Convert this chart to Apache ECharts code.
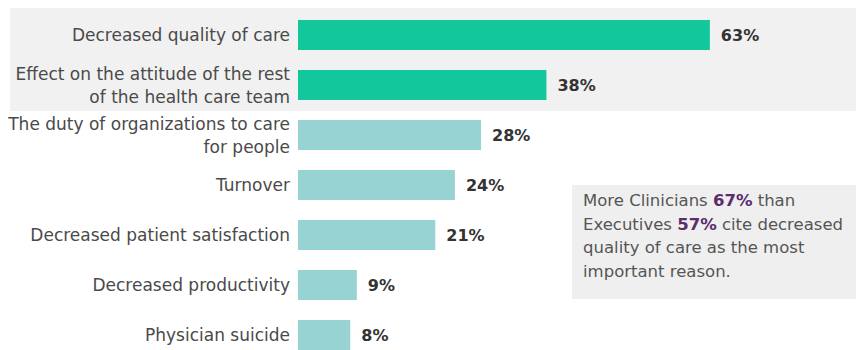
<!DOCTYPE html>
<html>
<head>
<meta charset="utf-8">
<script src="https://cdn.jsdelivr.net/npm/echarts@6/dist/echarts.min.js"></script>
<style>
  html, body { margin: 0; padding: 0; background: #fff; }
  #chart { width: 856px; height: 350px; }
</style>
</head>
<body>
<div id="chart"></div>
<script>
// reasons, top to bottom
const categories = [
  'Decreased quality of care',
  'Effect on the attitude of the rest\nof the health care team',
  'The duty of organizations to care\nfor people',
  'Turnover',
  'Decreased patient satisfaction',
  'Decreased productivity',
  'Physician suicide'
];
const values = [63, 38, 28, 24, 21, 9, 8];
const noteLines = [
  ['More Clinicians ', '67%', ' than'],
  ['Executives ', '57%', ' cite decreased'],
  ['quality of care as the most'],
  ['important reason.']
];

const green = '#12c79b';
const teal = '#96d3d2';
const font = '"DejaVu Sans", sans-serif';

const noteText = noteLines.map(parts =>
  parts.map((p, i) => i === 1 ? '{b|' + p + '}' : '{n|' + p + '}').join('')
).join('\n');

const chart = echarts.init(document.getElementById('chart'), null, { renderer: 'svg' });

chart.setOption({
  animation: false,
  textStyle: { fontFamily: font },
  grid: { left: 298, right: 35, top: 10, height: 350, outerBoundsMode: 'none', containLabel: false },
  xAxis: {
    type: 'value',
    min: 0,
    max: 80,
    show: false
  },
  yAxis: {
    type: 'category',
    data: categories,
    inverse: true,
    axisLine: { show: false },
    axisTick: { show: false },
    axisLabel: {
      margin: 8,
      fontSize: 17,
      lineHeight: 23,
      color: '#4a4a4a',
      fontFamily: font
    }
  },
  graphic: [
    {
      type: 'rect',
      z: -10,
      shape: { x: 10, y: 8, width: 846, height: 103 },
      style: { fill: '#f1f1f1' }
    },
    {
      type: 'rect',
      z: 10,
      shape: { x: 572, y: 185, width: 284, height: 114 },
      style: { fill: '#efefef' }
    },
    {
      type: 'text',
      z: 11,
      left: 583,
      top: 192,
      style: {
        text: noteText,
        rich: {
          n: { fontSize: 16.5, lineHeight: 23.5, fill: '#555', fontFamily: font },
          b: { fontSize: 16.5, lineHeight: 23.5, fill: '#5c2d6e', fontWeight: 'bold', fontFamily: font }
        }
      }
    }
  ],
  series: [{
    type: 'bar',
    data: values,
    barWidth: 30,
    itemStyle: {
      color: p => p.dataIndex < 2 ? green : teal
    },
    label: {
      show: true,
      position: 'right',
      distance: 11,
      formatter: '{c}%',
      fontSize: 16,
      fontWeight: 'bold',
      color: '#333',
      fontFamily: font
    }
  }]
});
</script>
</body>
</html>
